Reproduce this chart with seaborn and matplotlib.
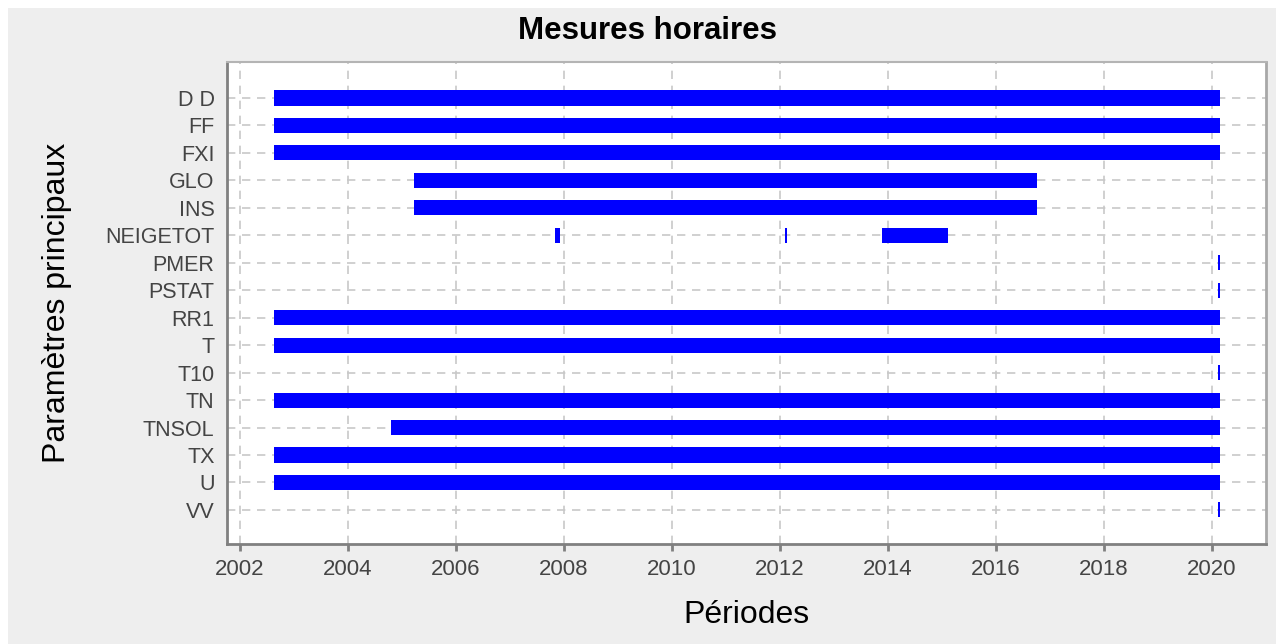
import pandas as pd
import matplotlib.pyplot as plt
import matplotlib.patches as mpatches
import seaborn as sns

# Parametres (ordre de haut en bas)
parametres = ["D D", "FF", "FXI", "GLO", "INS", "NEIGETOT", "PMER", "PSTAT",
              "RR1", "T", "T10", "TN", "TNSOL", "TX", "U", "VV"]

# Periodes de mesure (annee decimale) : un segment par ligne
seg_param = ["D D", "FF", "FXI", "GLO", "INS",
             "NEIGETOT", "NEIGETOT", "NEIGETOT",
             "PMER", "PSTAT", "RR1", "T", "T10", "TN", "TNSOL", "TX", "U", "VV"]
seg_debut = [2002.63, 2002.63, 2002.63, 2005.22, 2005.22,
             2007.83, 2012.09, 2013.89,
             2020.12, 2020.12, 2002.63, 2002.63, 2020.12, 2002.63, 2004.80, 2002.63, 2002.63, 2020.12]
seg_fin = [2020.15, 2020.15, 2020.15, 2016.76, 2016.76,
           2007.93, 2012.13, 2015.11,
           2020.14, 2020.14, 2020.15, 2020.15, 2020.14, 2020.15, 2020.15, 2020.15, 2020.15, 2020.14]

annees = [2002, 2004, 2006, 2008, 2010, 2012, 2014, 2016, 2018, 2020]

df = pd.DataFrame({"param": seg_param, "debut": seg_debut, "fin": seg_fin})
df["pos"] = df["param"].map({p: i for i, p in enumerate(parametres)})
df["duree"] = df["fin"] - df["debut"]

sns.set_theme(style="whitegrid")
plt.rcParams["font.family"] = ["Liberation Sans", "DejaVu Sans"]

fig = plt.figure(figsize=(12.76, 6.44), dpi=100, facecolor="white")
fond = mpatches.Rectangle((8 / 1276, 0), 1 - 8 / 1276, 1 - 8 / 644,
                          transform=fig.transFigure, facecolor="#eeeeee",
                          edgecolor="none", zorder=-10)
fig.patches.append(fond)
ax = fig.add_axes([227 / 1276, 1 - 544 / 644, (1266 - 227) / 1276, (544 - 62) / 644])
ax.set_zorder(1)
ax.set_facecolor("white")

ax.barh(df["pos"], df["duree"], left=df["debut"], height=0.55,
        color="#0000ff", edgecolor="none", zorder=3)

ax.set_yticks(range(len(parametres)))
ax.set_yticklabels(parametres)
ax.set_ylim(len(parametres) - 1 + 1.24, -1.31)
ax.set_xticks(annees)
ax.set_xticklabels([str(a) for a in annees])
ax.set_xlim(2001.76, 2021.0)

ax.grid(True, color="#c8c8c8", linestyle=(0, (5, 4)), linewidth=1.2, zorder=1)
ax.tick_params(axis="x", colors="#808080", labelcolor="#444444", labelsize=16,
               length=5, width=2, pad=6, bottom=True)
ax.tick_params(axis="y", labelcolor="#444444", labelsize=15.5, length=0, pad=9)

for side in ["left", "bottom"]:
    ax.spines[side].set_color("#808080")
    ax.spines[side].set_linewidth(2)
ax.spines["top"].set_color("#b4b4b4")
ax.spines["top"].set_linewidth(1.5)
ax.spines["right"].set_color("#a8a8a8")
ax.spines["right"].set_linewidth(2)

ax.set_xlabel("Périodes", fontsize=23, color="black", labelpad=14)
ax.set_ylabel("Paramètres principaux", fontsize=23, color="black")
ax.yaxis.set_label_coords(-0.149, 0.5)
fig.suptitle("Mesures horaires", x=647 / 1276, y=1 - 31 / 644, va="center",
             fontsize=22.5, fontweight="bold", color="black")

fig.savefig("out.png", dpi=100, facecolor=fig.get_facecolor())
